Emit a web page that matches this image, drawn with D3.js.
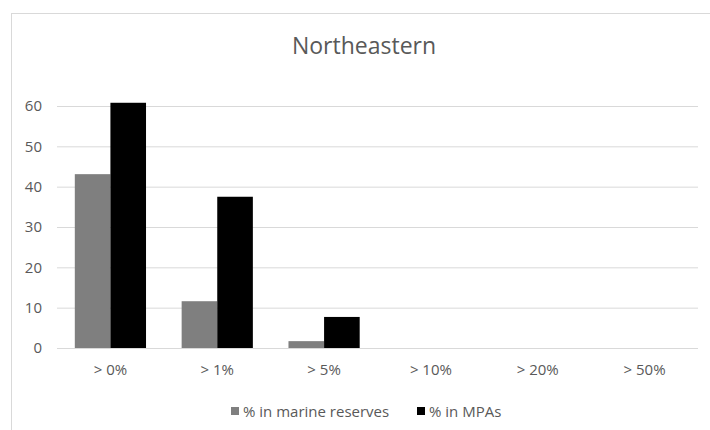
<!DOCTYPE html>
<html>
<head>
<meta charset="utf-8">
<script src="https://cdn.jsdelivr.net/npm/d3@7"></script>
<style>
  html, body { margin: 0; padding: 0; background: #fff; }
  svg { display: block; font-family: "Open Sans", sans-serif; }
</style>
</head>
<body>
<svg id="chart" width="710" height="430"></svg>
<script>
// Share of area above each threshold
const categories = ["> 0%", "> 1%", "> 5%", "> 10%", "> 20%", "> 50%"];
const seriesNames = ["% in marine reserves", "% in MPAs"];
const marineReserves = [43.1, 11.6, 1.7, 0, 0, 0];
const mpas = [60.8, 37.5, 7.7, 0, 0, 0];
const yTicks = [0, 10, 20, 30, 40, 50, 60];
const seriesColors = ["#7f7f7f", "#000000"];

const rows = categories.map((c, i) => ({ category: c, values: [marineReserves[i], mpas[i]] }));

const svg = d3.select("#chart");
const textColor = "#595959";
const gridColor = "#d9d9d9";

// chart frame
svg.append("rect")
  .attr("x", 11.5).attr("y", 13.5)
  .attr("width", 720).attr("height", 440)
  .attr("fill", "#fff").attr("stroke", gridColor).attr("stroke-width", 1);

const plot = { left: 57, right: 698, top: 106, bottom: 348 };

const x0 = d3.scaleBand().domain(categories).range([plot.left, plot.right]).padding(0);
const bw = x0.bandwidth();
const x1 = d3.scaleBand().domain(seriesNames).range([bw * 0.1667, bw * 0.8333]).padding(0);
const y = d3.scaleLinear().domain([0, 60]).range([plot.bottom, plot.top]);

// title
svg.append("text")
  .attr("x", 364).attr("y", 54)
  .attr("text-anchor", "middle")
  .attr("font-size", 23)
  .attr("fill", textColor)
  .text("Northeastern");

// horizontal gridlines and y labels via axis
const yAxis = d3.axisLeft(y).tickValues(yTicks)
  .tickSize(-(plot.right - plot.left)).tickPadding(15).tickFormat(d3.format("d"));
const gy = svg.append("g").attr("transform", `translate(${plot.left},0)`).call(yAxis);
gy.select(".domain").remove();
gy.selectAll(".tick line").attr("stroke", gridColor).attr("stroke-width", 1);
gy.selectAll(".tick text")
  .attr("fill", textColor).attr("font-size", 15)
  .attr("font-family", "Open Sans, sans-serif");

// bars
const groups = svg.append("g").selectAll("g")
  .data(rows).join("g")
  .attr("transform", d => `translate(${x0(d.category)},0)`);

groups.selectAll("rect")
  .data(d => d.values.map((v, i) => ({ key: seriesNames[i], value: v, color: seriesColors[i] })))
  .join("rect")
  .attr("x", d => x1(d.key))
  .attr("width", x1.bandwidth())
  .attr("y", d => y(d.value))
  .attr("height", d => y(0) - y(d.value))
  .attr("fill", d => d.color);

// category labels
const xAxis = d3.axisBottom(x0).tickSize(0).tickPadding(16);
const gx = svg.append("g").attr("transform", `translate(0,${plot.bottom})`).call(xAxis);
gx.select(".domain").remove();
gx.selectAll(".tick text")
  .attr("fill", textColor).attr("font-size", 15)
  .attr("font-family", "Open Sans, sans-serif");

// legend
const legendItems = [
  { name: seriesNames[0], color: seriesColors[0], x: 231 },
  { name: seriesNames[1], color: seriesColors[1], x: 417 }
];
const lg = svg.append("g").selectAll("g").data(legendItems).join("g")
  .attr("transform", d => `translate(${d.x},0)`);
lg.append("rect")
  .attr("x", 0).attr("y", 407).attr("width", 8).attr("height", 8)
  .attr("fill", d => d.color);
lg.append("text")
  .attr("x", 12).attr("y", 416.5)
  .attr("font-size", 15).attr("fill", textColor)
  .text(d => d.name);
</script>
</body>
</html>
